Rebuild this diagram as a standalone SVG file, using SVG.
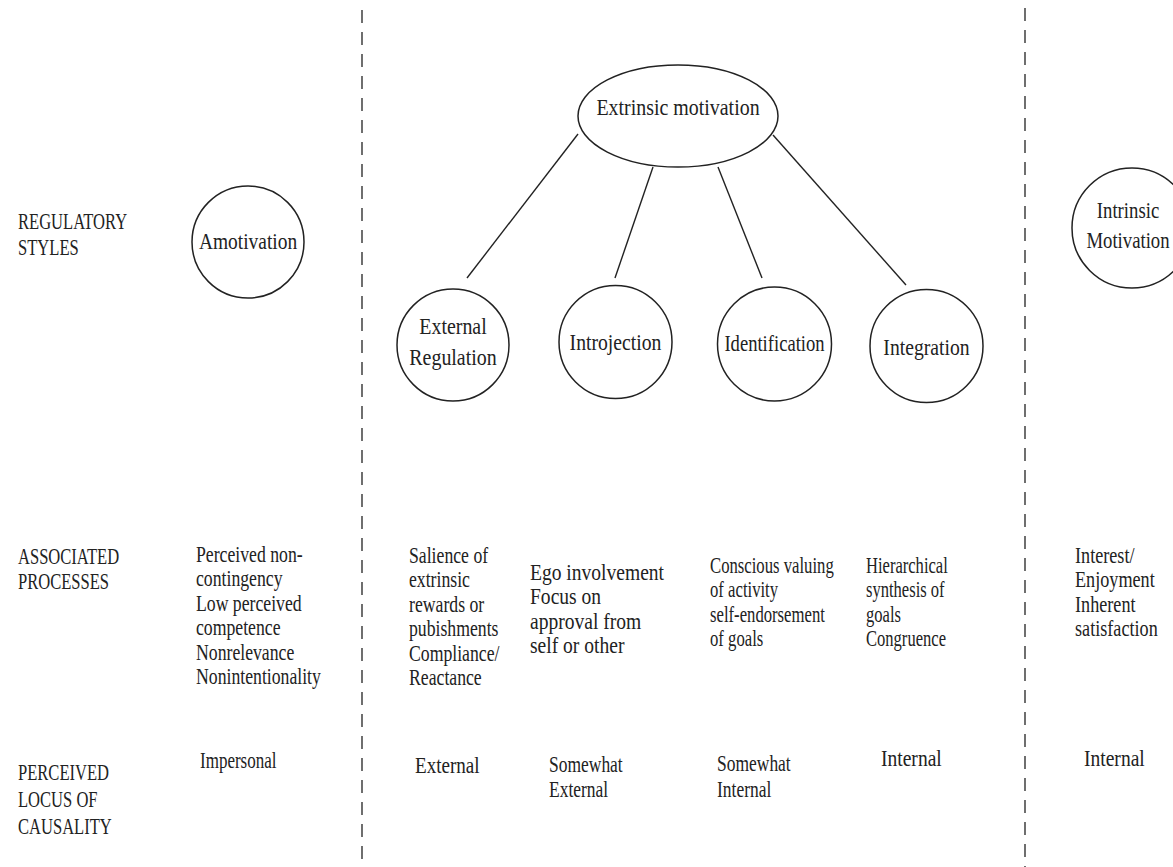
<svg xmlns="http://www.w3.org/2000/svg" width="1173" height="867" viewBox="0 0 1173 867">
<style>
text{font-family:"Liberation Serif","Times New Roman",serif;fill:#222;}
.lab{font-size:23px;}
.body{font-size:23px;}
.nl{font-size:24px;text-anchor:middle;}
.node{fill:none;stroke:#222;stroke-width:1.5;}
.conn{stroke:#222;stroke-width:1.4;fill:none;}
.div{stroke:#222;stroke-width:1.3;stroke-dasharray:13 9;fill:none;}
</style>
<rect width="1173" height="867" fill="#fff"/>
<g id="dividers">
<line class="div" x1="362" y1="10" x2="362" y2="867"/>
<line class="div" x1="1025" y1="8" x2="1025" y2="867"/>
</g>
<g id="row-labels">
<text class="lab" transform="matrix(0.72 0 0 1 18 229)"><tspan x="0" y="0">REGULATORY</tspan><tspan x="0" y="26">STYLES</tspan></text>
<text class="lab" transform="matrix(0.72 0 0 1 18 564)"><tspan x="0" y="0">ASSOCIATED</tspan><tspan x="0" y="25">PROCESSES</tspan></text>
<text class="lab" transform="matrix(0.72 0 0 1 18 780)"><tspan x="0" y="0">PERCEIVED</tspan><tspan x="0" y="27">LOCUS OF</tspan><tspan x="0" y="54">CAUSALITY</tspan></text>
</g>
<g id="connectors">
<line class="conn" x1="578" y1="134" x2="467" y2="278"/>
<line class="conn" x1="653" y1="167" x2="615" y2="278"/>
<line class="conn" x1="718" y1="167" x2="762" y2="278"/>
<line class="conn" x1="773" y1="135" x2="906" y2="285"/>
</g>
<g id="amotivation">
<circle class="node" cx="248" cy="242" r="56"/>
<text class="nl" transform="matrix(0.81 0 0 1 248 249)">Amotivation</text>
</g>
<g id="extrinsic-motivation">
<ellipse class="node" cx="678" cy="116" rx="100" ry="51"/>
<text class="nl" transform="matrix(0.83 0 0 1 678 115)">Extrinsic motivation</text>
</g>
<g id="external-regulation">
<circle class="node" cx="453" cy="345" r="56"/>
<text class="nl" transform="matrix(0.83 0 0 1 453 334)"><tspan x="0" y="0">External</tspan><tspan x="0" y="31">Regulation</tspan></text>
</g>
<g id="introjection">
<circle class="node" cx="615.5" cy="342" r="56.5"/>
<text class="nl" transform="matrix(0.82 0 0 1 615.5 350)">Introjection</text>
</g>
<g id="identification">
<circle class="node" cx="774.5" cy="344" r="57"/>
<text class="nl" transform="matrix(0.775 0 0 1 774.5 351)">Identification</text>
</g>
<g id="integration">
<circle class="node" cx="926.5" cy="346" r="56.5"/>
<text class="nl" transform="matrix(0.82 0 0 1 926.5 355)">Integration</text>
</g>
<g id="intrinsic-motivation">
<circle class="node" cx="1132" cy="228" r="60"/>
<text class="nl" transform="matrix(0.78 0 0 1 1128 218)"><tspan x="0" y="0">Intrinsic</tspan><tspan x="0" y="30">Motivation</tspan></text>
</g>
<g id="processes">
<text class="body" transform="matrix(0.77 0 0 1 196 562)"><tspan x="0" y="0">Perceived non-</tspan><tspan x="0" y="24.4">contingency</tspan><tspan x="0" y="48.8">Low perceived</tspan><tspan x="0" y="73.2">competence</tspan><tspan x="0" y="97.6">Nonrelevance</tspan><tspan x="0" y="122">Nonintentionality</tspan></text>
<text class="body" transform="matrix(0.77 0 0 1 409 563)"><tspan x="0" y="0">Salience of</tspan><tspan x="0" y="24.4">extrinsic</tspan><tspan x="0" y="48.8">rewards or</tspan><tspan x="0" y="73.2">pubishments</tspan><tspan x="0" y="97.6">Compliance/</tspan><tspan x="0" y="122">Reactance</tspan></text>
<text class="body" transform="matrix(0.85 0 0 1 530 580)"><tspan x="0" y="0">Ego involvement</tspan><tspan x="0" y="24.3">Focus on</tspan><tspan x="0" y="48.6">approval from</tspan><tspan x="0" y="72.9">self or other</tspan></text>
<text class="body" transform="matrix(0.726 0 0 1 710 573)"><tspan x="0" y="0">Conscious valuing</tspan><tspan x="0" y="24.4">of activity</tspan><tspan x="0" y="48.8">self-endorsement</tspan><tspan x="0" y="73.2">of goals</tspan></text>
<text class="body" transform="matrix(0.72 0 0 1 866 573)"><tspan x="0" y="0">Hierarchical</tspan><tspan x="0" y="24.4">synthesis of</tspan><tspan x="0" y="48.8">goals</tspan><tspan x="0" y="73.2">Congruence</tspan></text>
<text class="body" transform="matrix(0.79 0 0 1 1075 563)"><tspan x="0" y="0">Interest/</tspan><tspan x="0" y="24.4">Enjoyment</tspan><tspan x="0" y="48.8">Inherent</tspan><tspan x="0" y="73.2">satisfaction</tspan></text>
</g>
<g id="locus">
<text class="body" transform="matrix(0.74 0 0 1 200 768)">Impersonal</text>
<text class="body" transform="matrix(0.83 0 0 1 415 773)">External</text>
<text class="body" transform="matrix(0.76 0 0 1 549 772)"><tspan x="0" y="0">Somewhat</tspan><tspan x="0" y="25">External</tspan></text>
<text class="body" transform="matrix(0.76 0 0 1 717 771)"><tspan x="0" y="0">Somewhat</tspan><tspan x="0" y="26">Internal</tspan></text>
<text class="body" transform="matrix(0.85 0 0 1 881 766)">Internal</text>
<text class="body" transform="matrix(0.85 0 0 1 1084 766)">Internal</text>
</g>
</svg>
